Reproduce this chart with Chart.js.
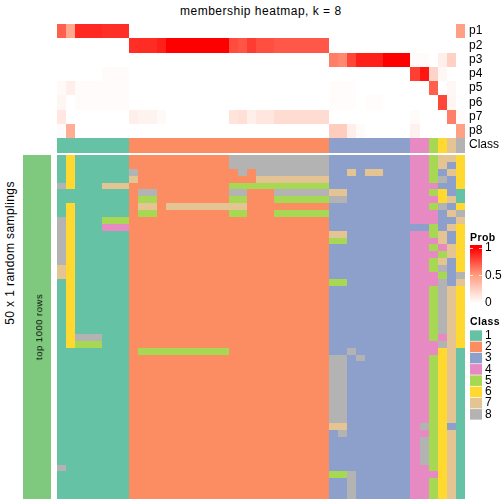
<!DOCTYPE html>
<html>
<head>
<meta charset="utf-8">
<title>membership heatmap</title>
<script src="https://cdn.jsdelivr.net/npm/chart.js@4/dist/chart.umd.min.js"></script>
<style>
  html, body { margin: 0; padding: 0; background: #fff; }
  body { position: relative; width: 504px; height: 504px; overflow: hidden; font-family: "Liberation Sans", sans-serif; color: #000; }
  canvas { position: absolute; display: block; }
  .txt { position: absolute; white-space: nowrap; line-height: 1; z-index: 2; }
  .bold { font-weight: bold; font-size: 10.5px; letter-spacing: .4px; }
</style>
</head>
<body>
<div class="txt" id="mainTitle" style="left:180px;top:5px;font-size:12px;letter-spacing:.5px">membership heatmap, k = 8</div>
<div class="txt" style="left:10px;top:253px;font-size:12px;letter-spacing:.42px;transform:translate(-50%,-50%) rotate(-90deg)">50 x 1 random samplings</div>
<div class="txt" style="left:38.5px;top:327px;font-size:9.5px;letter-spacing:.5px;transform:translate(-50%,-50%) rotate(-90deg)">top 1000 rows</div>
<div class="txt bold" style="left:470px;top:232px">Prob</div>
<div class="txt bold" style="left:470px;top:316px">Class</div>

<canvas id="topChart" width="447" height="129" style="left:57px;top:24px"></canvas>
<canvas id="bodyChart" width="408" height="344" style="left:57px;top:155px"></canvas>
<canvas id="stripChart" width="28" height="344" style="left:23px;top:155px"></canvas>
<canvas id="probLegend" width="34" height="70" style="left:470px;top:239px"></canvas>
<canvas id="classLegend" width="34" height="94" style="left:470px;top:330px"></canvas>

<script>
// class colours (Set2) and the green of the left annotation strip
const classColors = { 1:'#66C2A5', 2:'#FC8D62', 3:'#8DA0CB', 4:'#E78AC3', 5:'#A6D854', 6:'#FFD92F', 7:'#E5C494', 8:'#B3B3B3' };
const stripColor = '#7FC97F';

// 45 samples, read left to right
const sampleClass = [1,1,1,1,1,1,1,1, 2,2,2,2,2,2,2,2,2,2,2,2,2,2,2,2,2,2,2,2,2,2, 3,3,3,3,3,3,3,3,3, 4,4, 5,6,7,8];

// membership probabilities per row of the top block
const p1 = [.70,.45,.87,.87,.87,.85,.85,.85, 0,0,0,0,0,0,0,0,0,0,0,0,0,0,0,0,0,0,0,0,0,0, 0,0,0,0,0,0,0,0,0, 0,0, 0,0,0,.49];
const p2 = [0,0,0,0,0,0,0,0, .85,.86,.86,.9,1,1,1,1,1,1,1,.76,.73,.81,.75,.75,.72,.72,.72,.72,.72,.72, 0,0,0,0,0,0,0,0,0, 0,0, 0,0,0,0];
const p3 = [0,0,0,0,0,0,0,0, 0,0,0,0,0,0,0,0,0,0,0,0,0,0,0,0,0,0,0,0,0,0, .6,.57,.78,.9,.9,.9,1,1,1, .02,.02, 0,.08,.24,0];
const p4 = [0,0,0,0,0,.02,.02,.02, 0,0,0,0,0,0,0,0,0,0,0,0,0,0,0,0,0,0,0,0,0,0, 0,0,0,0,0,0,0,0,0, .8,.93, .22,.04,0,0];
const p5 = [.03,.08,.02,.02,.02,.02,.02,.02, 0,0,0,0,0,0,0,0,0,0,0,0,0,0,0,0,0,0,0,0,0,0, .015,.015,.015,0,0,0,0,0,0, 0,0, .7,0,.04,0];
const p6 = [.05,0,.02,.02,.02,.02,.02,.02, 0,0,0,0,0,0,0,0,0,0,0,0,0,0,0,0,0,0,0,0,0,0, .015,.015,.015,0,.015,.015,0,0,0, 0,0, 0,.78,.05,0];
const p7 = [.12,0,0,0,0,0,0,0, .08,.06,.06,.03,0,0,0,0,0,0,0,.14,.16,.08,.13,.13,.18,.18,.18,.18,.18,.18, 0,0,0,0,0,0,0,0,0, .02,0, 0,0,.6,.02];
const p8 = [.02,.42,0,0,0,0,0,0, 0,0,0,0,0,0,0,0,0,0,0,0,0,0,0,0,0,0,0,0,0,0, .26,.26,.08,.02,0,0,0,0,0, .07,0, 0,0,0,.49];
const probRows = [p1, p2, p3, p4, p5, p6, p7, p8];
const topLabels = ['p1','p2','p3','p4','p5','p6','p7','p8','Class'];

// class of every sample in each of the 50 random samplings
const sampleRows = [
  '16111111 2222222222288888888888 333333333 44 5776',
  '16111111 2222222222288888888888 333333333 44 5736',
  '16111111 8222222222228288888888 337377333 44 5376',
  '16111111 7222222222222277777777 333333333 44 5836',
  '86111777 2222222222255555555555 333333333 44 4336',
  '11111111 2882222222288222888888 773333333 44 5631',
  '11111111 2552222222255222555555 883333333 44 4671',
  '16111111 2772777777777222222222 333333333 44 5836',
  '16111111 2552222222255222555555 333333333 44 4378',
  '86111555 2222222222222222222222 333333333 44 4337',
  '86111444 2222222222222222222222 333333333 33 5376',
  '86111111 2222222222222222222222 773333333 44 5736',
  '86111111 2222222222222222222222 553333333 44 4736',
  '86111111 2222222222222222222222 333333333 44 5476',
  '86111111 2222222222222222222222 333333333 44 4576',
  '86111111 2222222222222222222222 333333333 44 5736',
  '76111111 2222222222222222222222 333333333 44 5836',
  '76111111 2222222222222222222222 333333333 44 4538',
  '16111111 2222222222222222222222 553333333 44 4837',
  '16111111 2222222222222222222222 333333333 44 5876',
  '16111111 2222222222222222222222 333333333 44 5876',
  '16111111 2222222222222222222222 333333333 44 5876',
  '16111111 2222222222222222222222 333333333 44 5876',
  '16111111 2222222222222222222222 333333333 44 5876',
  '16111111 2222222222222222222222 333333333 44 5876',
  '16111111 2222222222222222222222 333333333 44 5876',
  '16888111 2222222222222222222222 333333333 44 5476',
  '16555111 2222222222222222222222 333333333 44 4876',
  '11111111 2555555555522222222222 338333333 44 4671',
  '11111111 2222222222222222222222 883833333 44 5671',
  '11111111 2222222222222222222222 883333333 44 5671',
  '11111111 2222222222222222222222 883333333 44 5671',
  '11111111 2222222222222222222222 883333333 44 5671',
  '11111111 2222222222222222222222 883333333 44 5671',
  '11111111 2222222222222222222222 883333333 44 5671',
  '11111111 2222222222222222222222 883333333 44 5671',
  '11111111 2222222222222222222222 883333333 44 5671',
  '11111111 2222222222222222222222 883333333 44 5671',
  '11111111 2222222222222222222222 883333333 44 5671',
  '11111111 2222222222222222222222 773333333 48 5631',
  '11111111 2222222222222222222222 383333333 44 5671',
  '11111111 2222222222222222222222 333333333 48 5671',
  '11111111 2222222222222222222222 333333333 48 5671',
  '11111111 2222222222222222222222 333333333 48 5671',
  '11111111 2222222222222222222222 333333333 48 5671',
  '81111111 2222222222222222222222 333333333 44 5671',
  '11111111 2222222222222222222222 558333333 44 4671',
  '11111111 2222222222222222222222 338333333 44 5671',
  '11111111 2222222222222222222222 338333333 44 5671',
  '11111111 2222222222222222222222 338333333 44 5671'
].map(s => s.replace(/ /g, '').split('').map(Number));

// legend
const probTicks = [0, 0.5, 1];
const classLabels = ['1','2','3','4','5','6','7','8'];

// =========================
// Helpers
const font = { family: '"Liberation Sans", sans-serif', size: 12 };

// white -> red ramp, same midpoint as the legend
function probColor(v){
  const mix = (a,b,t) => Math.round(a + (b-a)*t);
  if(v <= 0.5){
    const t = v/0.5;
    return `rgb(255,${mix(255,158,t)},${mix(255,129,t)})`;
  }
  const t = (v-0.5)/0.5;
  return `rgb(255,${mix(158,0,t)},${mix(129,0,t)})`;
}

// cells end on whole pixels so neighbours do not leave seams
const snapCells = {
  id: 'snapCells',
  afterDatasetsUpdate(chart){
    chart.getSortedVisibleDatasetMetas().forEach(meta => {
      meta.data.forEach(bar => {
        const left = Math.floor(bar.x - bar.width/2 + 0.39);
        const right = Math.floor(bar.x + bar.width/2 + 0.39);
        bar.x = (left + right)/2;
        bar.width = right - left;
        bar.y = Math.round(bar.y);
        bar.base = Math.round(bar.base);
      });
    });
  }
};

// the y axis keeps the whole canvas height, no room for half labels
const fitAxis = width => s => {
  s.width = width;
  s.paddingTop = 0;
  s.paddingBottom = 0;
};

function cellDataset(rowStart, rowEnd, colors){
  return {
    data: colors.map(() => [rowStart, rowEnd]),
    backgroundColor: colors,
    barPercentage: 1,
    categoryPercentage: 1,
    grouped: false,
    inflateAmount: 0,
    borderWidth: 0
  };
}

const baseOptions = {
  responsive: false,
  animation: false,
  events: [],
  layout: { padding: 0 },
  plugins: { legend: { display: false }, tooltip: { enabled: false } }
};

function heatmap(id, datasets, yMax, extraY){
  return new Chart(document.getElementById(id), {
    type: 'bar',
    data: { labels: datasets[0].data.map((_, i) => i), datasets },
    options: {
      ...baseOptions,
      scales: {
        x: { display: false, offset: true },
        y: { display: false, min: 0, max: yMax, reverse: true, ...extraY }
      }
    },
    plugins: [snapCells]
  });
}

// =========================
// Top block: p1..p8 and the class bar
const topSets = probRows.map((row, r) => cellDataset(r, r + 1, row.map(probColor)));
topSets.push(cellDataset(8, 9.05, sampleClass.map(c => classColors[c])));
heatmap('topChart', topSets, 9.05, {
  display: true,
  position: 'right',
  border: { display: false },
  grid: { display: false, drawTicks: false },
  afterFit: fitAxis(39),
  afterBuildTicks: s => { s.ticks = topLabels.map((_, i) => ({ value: i + 0.5 })); },
  ticks: {
    autoSkip: false,
    padding: 4,
    color: '#000',
    font: { ...font, size: 12 },
    callback: v => topLabels[v - 0.5]
  }
});

// =========================
// Samplings
heatmap('bodyChart', sampleRows.map((row, r) => cellDataset(r, r + 1, row.map(c => classColors[c]))), sampleRows.length);

// left annotation strip
heatmap('stripChart', [cellDataset(0, 1, [stripColor])], 1);

// =========================
// Prob legend: one bar from the scale with a gradient fill
new Chart(document.getElementById('probLegend'), {
  type: 'bar',
  data: {
    labels: ['Prob'],
    datasets: [{
      data: [[0, 1.05]],
      barPercentage: 1,
      categoryPercentage: 1,
      inflateAmount: 0,
      backgroundColor: ctx => {
        const area = ctx.chart.chartArea;
        const y = ctx.chart.scales.y;
        if(!area) return '#fff';
        const g = ctx.chart.ctx.createLinearGradient(0, y.getPixelForValue(0), 0, y.getPixelForValue(1));
        [0, .25, .5, .75, 1].forEach(v => g.addColorStop(v, probColor(v)));
        return g;
      }
    }]
  },
  options: {
    ...baseOptions,
    layout: { padding: { top: 6, bottom: 6 } },
    scales: {
      x: { display: false },
      y: {
        min: 0,
        max: 1.05,
        position: 'right',
        border: { display: false },
        grid: { display: false, drawTicks: false },
        afterFit: fitAxis(22),
        afterBuildTicks: s => { s.ticks = probTicks.map(value => ({ value })); },
        ticks: { padding: 3, color: '#000', font: { ...font, size: 12 }, callback: v => String(v) }
      }
    }
  },
  plugins: [{
    // short white marks at the labelled values
    id: 'probMarks',
    afterDatasetsDraw(chart){
      const { ctx, chartArea, scales } = chart;
      ctx.save();
      ctx.fillStyle = 'rgba(255,255,255,.7)';
      probTicks.forEach(v => {
        const y = Math.round(scales.y.getPixelForValue(v));
        ctx.fillRect(chartArea.left, y, 3, 1);
        ctx.fillRect(chartArea.right - 3, y, 3, 1);
      });
      ctx.restore();
    }
  }]
});

// =========================
// Class legend
new Chart(document.getElementById('classLegend'), {
  type: 'bar',
  data: {
    labels: classLabels,
    datasets: [{
      data: classLabels.map(() => 1),
      backgroundColor: classLabels.map(l => classColors[l]),
      barPercentage: 0.94,
      categoryPercentage: 1,
      inflateAmount: 0
    }]
  },
  options: {
    ...baseOptions,
    layout: { padding: { bottom: 4 } },
    indexAxis: 'y',
    scales: {
      x: { display: false, min: 0, max: 1 },
      y: {
        position: 'right',
        border: { display: false },
        grid: { display: false, drawTicks: false },
        afterFit: fitAxis(22),
        ticks: { autoSkip: false, padding: 3, color: '#000', font: { ...font, size: 12 } }
      }
    }
  }
});
</script>
</body>
</html>
